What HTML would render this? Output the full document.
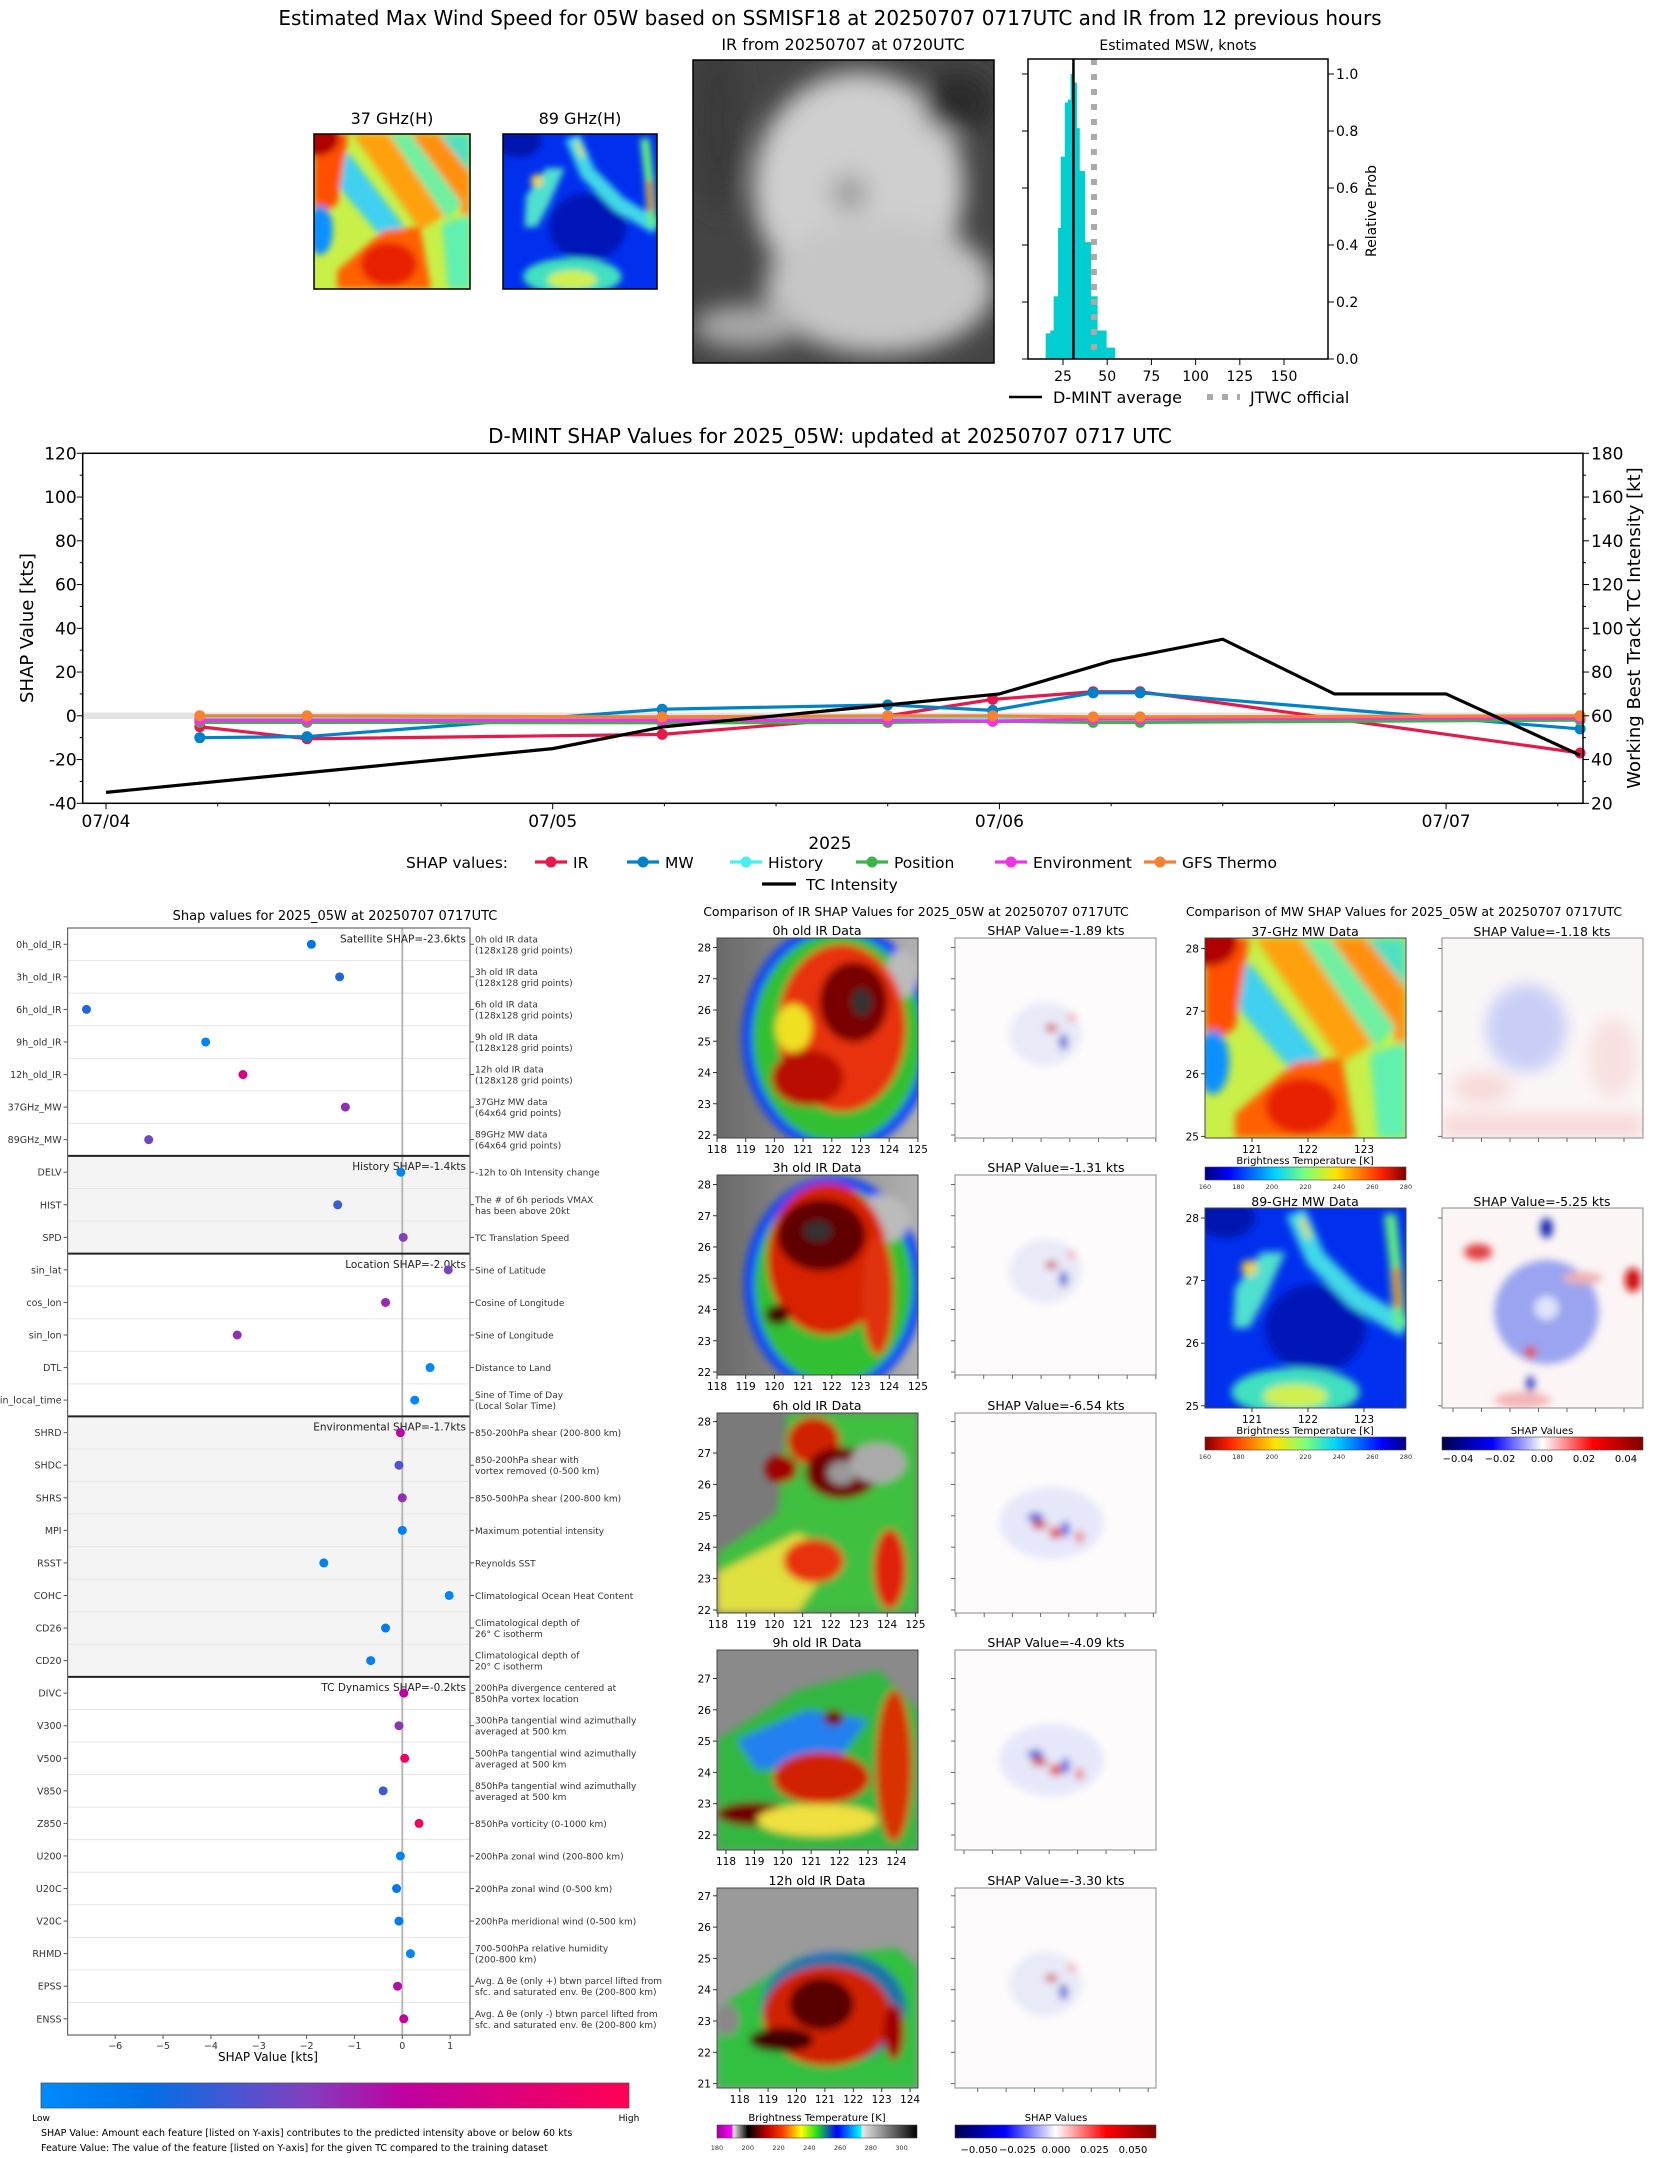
<!DOCTYPE html>
<html><head><meta charset="utf-8">
<style>
html,body{margin:0;padding:0;background:#fff;}
svg{display:block;font-family:"DejaVu Sans","Liberation Sans",sans-serif;}
</style></head>
<body>
<svg id="root" xmlns="http://www.w3.org/2000/svg" width="1655" height="2158" viewBox="0 0 1655 2158">
<defs>
<filter id="b2" x="-20%" y="-20%" width="140%" height="140%"><feGaussianBlur stdDeviation="2"/></filter>
<filter id="b4" x="-20%" y="-20%" width="140%" height="140%"><feGaussianBlur stdDeviation="4"/></filter>
<linearGradient id="jet" x1="0" x2="1"><stop offset="0" stop-color="#00007f"/><stop offset="0.12" stop-color="#0000ff"/><stop offset="0.35" stop-color="#00d4ff"/><stop offset="0.5" stop-color="#7dff7a"/><stop offset="0.65" stop-color="#ffe500"/><stop offset="0.88" stop-color="#ff2000"/><stop offset="1" stop-color="#7f0000"/></linearGradient>
<linearGradient id="jetr" x1="1" x2="0"><stop offset="0" stop-color="#00007f"/><stop offset="0.12" stop-color="#0000ff"/><stop offset="0.35" stop-color="#00d4ff"/><stop offset="0.5" stop-color="#7dff7a"/><stop offset="0.65" stop-color="#ffe500"/><stop offset="0.88" stop-color="#ff2000"/><stop offset="1" stop-color="#7f0000"/></linearGradient>
<linearGradient id="seis" x1="0" x2="1"><stop offset="0" stop-color="#00004c"/><stop offset="0.25" stop-color="#0000ff"/><stop offset="0.5" stop-color="#ffffff"/><stop offset="0.75" stop-color="#ff0000"/><stop offset="1" stop-color="#800000"/></linearGradient>
<linearGradient id="featc" x1="0" x2="1"><stop offset="0" stop-color="#008bfb"/><stop offset="0.18" stop-color="#0070e8"/><stop offset="0.45" stop-color="#8040c0"/><stop offset="0.62" stop-color="#c000a0"/><stop offset="1" stop-color="#ff0052"/></linearGradient>
<linearGradient id="irbar" x1="0" x2="1"><stop offset="0" stop-color="#a000a0"/><stop offset="0.075" stop-color="#ff00ff"/><stop offset="0.08" stop-color="#f0f0f0"/><stop offset="0.155" stop-color="#000"/><stop offset="0.25" stop-color="#c00000"/><stop offset="0.33" stop-color="#ff4000"/><stop offset="0.42" stop-color="#ffff00"/><stop offset="0.5" stop-color="#20e020"/><stop offset="0.6" stop-color="#0000ff"/><stop offset="0.72" stop-color="#00ffff"/><stop offset="0.725" stop-color="#e8e8e8"/><stop offset="1" stop-color="#000"/></linearGradient>
<linearGradient id="grayl" x1="0" x2="1"><stop offset="0" stop-color="#6a6a6a"/><stop offset="1" stop-color="#b0b0b0"/></linearGradient>

<symbol id="mw37" viewBox="0 0 100 100" preserveAspectRatio="none">
<rect width="100" height="100" fill="#c8f048"/>
<g filter="url(#b2)">
<polygon points="25,0 48,0 85,52 68,62" fill="#ffa010"/>
<polygon points="62,0 80,0 100,25 100,58" fill="#ff9010"/>
<polygon points="48,0 62,0 95,45 85,55" fill="#70f0a0"/>
<polygon points="80,0 100,0 100,25" fill="#50e0c0"/>
<polygon points="8,25 22,12 58,60 46,70" fill="#40d0f0"/>
<polygon points="0,0 22,0 15,45 0,55" fill="#ff5000"/>
<ellipse cx="2" cy="2" rx="14" ry="12" fill="#b00000"/>
<ellipse cx="4" cy="62" rx="8" ry="16" fill="#1090ff"/>
<polygon points="15,88 45,62 68,60 75,100 15,100" fill="#ff6000"/>
<ellipse cx="48" cy="84" rx="18" ry="14" fill="#e82000"/>
<polygon points="82,58 100,52 100,100 86,100" fill="#60f0b0"/>
</g></symbol>

<symbol id="mw89" viewBox="0 0 100 100" preserveAspectRatio="none">
<rect width="100" height="100" fill="#0030ee"/>
<g filter="url(#b2)">
<ellipse cx="55" cy="60" rx="25" ry="22" fill="#0014b8"/>
<ellipse cx="10" cy="5" rx="15" ry="10" fill="#0018b0"/>
<polyline points="45,2 55,25 75,45 100,60" fill="none" stroke="#40d8e8" stroke-width="10"/>
<polyline points="48,5 52,15" fill="none" stroke="#e0e040" stroke-width="3"/>
<polygon points="15,40 28,22 40,22 30,45 22,60 14,60" fill="#50e0d0"/>
<ellipse cx="22" cy="30" rx="4" ry="4" fill="#f0d040"/>
<ellipse cx="45" cy="92" rx="32" ry="12" fill="#40e0c0"/>
<ellipse cx="45" cy="94" rx="16" ry="6" fill="#d0f050"/>
<polyline points="92,3 95,30 97,60" fill="none" stroke="#60f080" stroke-width="6"/>
<polyline points="95,30 96,50" fill="none" stroke="#f03000" stroke-width="3"/>
</g></symbol>

<symbol id="irgray" viewBox="0 0 100 100" preserveAspectRatio="none">
<rect width="100" height="100" fill="#444"/>
<g filter="url(#b4)">
<ellipse cx="55" cy="42" rx="35" ry="38" fill="#cfcfcf"/>
<ellipse cx="62" cy="75" rx="38" ry="22" fill="#c6c6c6"/>
<ellipse cx="18" cy="88" rx="18" ry="7" fill="#aaa"/>
<ellipse cx="88" cy="14" rx="12" ry="10" fill="#2a2a2a"/>
<ellipse cx="52" cy="44" rx="6" ry="6" fill="#9a9a9a"/>
<ellipse cx="8" cy="20" rx="8" ry="30" fill="#3a3a3a"/>
</g></symbol>

<symbol id="irc0" viewBox="0 0 100 100" preserveAspectRatio="none">
<rect width="100" height="100" fill="url(#grayl)"/>
<g filter="url(#b2)">
<ellipse cx="60" cy="50" rx="45" ry="55" fill="#30c030" stroke="#1040ff" stroke-width="5"/>
<ellipse cx="92" cy="18" rx="8" ry="12" fill="#bbb"/>
<ellipse cx="62" cy="45" rx="32" ry="42" fill="#e83010"/>
<ellipse cx="68" cy="32" rx="17" ry="20" fill="#780000"/>
<ellipse cx="72" cy="32" rx="5" ry="7" fill="#303030"/>
<ellipse cx="45" cy="70" rx="18" ry="14" fill="#b81000"/>
<ellipse cx="38" cy="45" rx="9" ry="12" fill="#f0e020"/>
</g></symbol>

<symbol id="irc3" viewBox="0 0 100 100" preserveAspectRatio="none">
<rect width="100" height="100" fill="url(#grayl)"/>
<g filter="url(#b2)">
<ellipse cx="58" cy="55" rx="42" ry="52" fill="#30c030" stroke="#1040ff" stroke-width="5"/>
<ellipse cx="82" cy="22" rx="14" ry="12" fill="#bbb"/>
<ellipse cx="55" cy="42" rx="30" ry="38" fill="#d82000"/>
<ellipse cx="52" cy="30" rx="22" ry="18" fill="#600000"/>
<ellipse cx="50" cy="28" rx="7" ry="5" fill="#303030"/>
<ellipse cx="80" cy="60" rx="8" ry="30" fill="#e03010"/>
<ellipse cx="30" cy="70" rx="6" ry="5" fill="#400000"/>
</g></symbol>

<symbol id="irc6" viewBox="0 0 100 100" preserveAspectRatio="none">
<rect width="100" height="100" fill="#7a7a7a"/>
<g filter="url(#b2)">
<polygon points="35,0 100,0 100,100 0,100 0,70 30,50" fill="#40c040"/>
<polygon points="0,80 40,60 60,70 40,100 0,100" fill="#e0e040"/>
<ellipse cx="48" cy="14" rx="13" ry="12" fill="#d02000"/>
<ellipse cx="62" cy="30" rx="18" ry="13" fill="#700000"/>
<ellipse cx="62" cy="30" rx="7" ry="6" fill="#999"/>
<ellipse cx="32" cy="28" rx="8" ry="7" fill="#a00000"/>
<ellipse cx="48" cy="74" rx="15" ry="11" fill="#e83010"/>
<ellipse cx="86" cy="78" rx="8" ry="20" fill="#e02010"/>
<ellipse cx="80" cy="25" rx="14" ry="10" fill="#aaa"/>
</g></symbol>

<symbol id="irc9" viewBox="0 0 100 100" preserveAspectRatio="none">
<rect width="100" height="100" fill="#8a8a8a"/>
<g filter="url(#b2)">
<polygon points="0,45 40,20 80,10 100,30 100,100 0,100" fill="#30b840" />
<polygon points="10,45 45,30 75,35 60,55 20,60" fill="#2080f0"/>
<ellipse cx="52" cy="64" rx="24" ry="13" fill="#d02000"/>
<ellipse cx="88" cy="58" rx="9" ry="38" fill="#d83000"/>
<ellipse cx="18" cy="82" rx="18" ry="6" fill="#700000"/>
<ellipse cx="58" cy="34" rx="5" ry="4" fill="#700000"/>
<ellipse cx="50" cy="85" rx="30" ry="8" fill="#f0e040"/>
</g></symbol>

<symbol id="irc12" viewBox="0 0 100 100" preserveAspectRatio="none">
<rect width="100" height="100" fill="#9a9a9a"/>
<g filter="url(#b2)">
<polygon points="0,60 40,35 90,30 100,40 100,100 0,100" fill="#30c040"/>
<ellipse cx="58" cy="60" rx="36" ry="28" fill="#1040f0" opacity="0.6"/>
<ellipse cx="55" cy="64" rx="32" ry="25" fill="#d02000"/>
<ellipse cx="52" cy="58" rx="16" ry="13" fill="#580000"/>
<ellipse cx="32" cy="76" rx="16" ry="6" fill="#400000"/>
<ellipse cx="5" cy="66" rx="6" ry="8" fill="#888"/>
<ellipse cx="88" cy="72" rx="5" ry="14" fill="#a00000"/>
</g></symbol>

<symbol id="shapir" viewBox="0 0 100 100" preserveAspectRatio="none">
<rect width="100" height="100" fill="#fdfbfb"/>
<g filter="url(#b2)">
<ellipse cx="45" cy="48" rx="18" ry="16" fill="#e8eaf8"/>
<ellipse cx="48" cy="45" rx="3" ry="2" fill="#d04040"/>
<ellipse cx="54" cy="52" rx="2" ry="4" fill="#3040d0"/>
<ellipse cx="58" cy="40" rx="2" ry="2" fill="#f0a0a0"/>
</g></symbol>

<symbol id="shapir6" viewBox="0 0 100 100" preserveAspectRatio="none">
<rect width="100" height="100" fill="#fdfbfb"/>
<g filter="url(#b2)">
<ellipse cx="48" cy="55" rx="26" ry="18" fill="#e6e8fa"/>
<ellipse cx="40" cy="52" rx="4" ry="2" fill="#2030d0"/>
<ellipse cx="42" cy="56" rx="4" ry="2" fill="#d01010"/>
<ellipse cx="50" cy="60" rx="3" ry="3" fill="#e03030"/>
<ellipse cx="55" cy="58" rx="2" ry="4" fill="#3040e0"/>
<ellipse cx="62" cy="62" rx="2" ry="3" fill="#f06060"/>
</g></symbol>

<symbol id="shapmw37" viewBox="0 0 100 100" preserveAspectRatio="none">
<rect width="100" height="100" fill="#fbf6f6"/>
<g filter="url(#b4)">
<ellipse cx="42" cy="45" rx="20" ry="22" fill="#c8cef6"/>
<ellipse cx="20" cy="75" rx="15" ry="8" fill="#f8dada"/>
<ellipse cx="85" cy="60" rx="12" ry="20" fill="#f8e0e0"/>
<rect x="0" y="88" width="100" height="12" fill="#f8d8d8"/>
</g></symbol>

<symbol id="shapmw89" viewBox="0 0 100 100" preserveAspectRatio="none">
<rect width="100" height="100" fill="#fbf5f5"/>
<g filter="url(#b2)">
<ellipse cx="52" cy="52" rx="26" ry="26" fill="#9aa4f0"/>
<ellipse cx="52" cy="50" rx="6" ry="6" fill="#e0e4fc"/>
<ellipse cx="18" cy="22" rx="7" ry="4" fill="#e04040"/>
<ellipse cx="95" cy="36" rx="4" ry="6" fill="#d01010"/>
<ellipse cx="52" cy="10" rx="3" ry="5" fill="#1020b0"/>
<ellipse cx="44" cy="72" rx="3" ry="3" fill="#e04040"/>
<ellipse cx="44" cy="88" rx="2" ry="4" fill="#2030c0"/>
<ellipse cx="70" cy="35" rx="10" ry="3" fill="#f0b0b0"/>
<ellipse cx="40" cy="96" rx="14" ry="4" fill="#f4b4b4"/>
</g></symbol>
</defs>

<text x="830" y="25" font-size="20" text-anchor="middle">Estimated Max Wind Speed for 05W based on SSMISF18 at 20250707 0717UTC and IR from 12 previous hours</text>
<text x="392" y="124" font-size="16" text-anchor="middle">37 GHz(H)</text>
<text x="580" y="124" font-size="16" text-anchor="middle">89 GHz(H)</text>
<text x="843" y="50" font-size="16" text-anchor="middle">IR from 20250707 at 0720UTC</text>
<use href="#mw37" x="314" y="134" width="156" height="155"/>
<rect x="314" y="134" width="156" height="155" fill="none" stroke="#000" stroke-width="1.5"/>
<use href="#mw89" x="503" y="134" width="154" height="155"/>
<rect x="503" y="134" width="154" height="155" fill="none" stroke="#000" stroke-width="1.5"/>
<use href="#irgray" x="693" y="60" width="301" height="303"/>
<rect x="693" y="60" width="301" height="303" fill="none" stroke="#000" stroke-width="1.5"/>
<g id="hist"></g>

<g id="ts"></g>

<g id="bees"></g>

<text x="916" y="916" font-size="12.5" text-anchor="middle">Comparison of IR SHAP Values for 2025_05W at 20250707 0717UTC</text>
<text x="1404" y="916" font-size="12.5" text-anchor="middle">Comparison of MW SHAP Values for 2025_05W at 20250707 0717UTC</text>
<g id="irpanels"></g>

<text x="1305" y="936" font-size="12.5" text-anchor="middle">37-GHz MW Data</text>
<use href="#mw37" x="1205" y="938" width="201" height="200"/>
<rect x="1205" y="938" width="201" height="200" fill="none" stroke="#444"/>
<text x="1542" y="936" font-size="12.5" text-anchor="middle">SHAP Value=-1.18 kts</text>
<use href="#shapmw37" x="1442" y="938" width="201" height="200"/>
<rect x="1442" y="938" width="201" height="200" fill="none" stroke="#888"/>
<text x="1305" y="1206" font-size="12.5" text-anchor="middle">89-GHz MW Data</text>
<use href="#mw89" x="1205" y="1208" width="201" height="200"/>
<rect x="1205" y="1208" width="201" height="200" fill="none" stroke="#444"/>
<text x="1542" y="1206" font-size="12.5" text-anchor="middle">SHAP Value=-5.25 kts</text>
<use href="#shapmw89" x="1442" y="1208" width="201" height="200"/>
<rect x="1442" y="1208" width="201" height="200" fill="none" stroke="#888"/>

<text x="1305" y="1164" font-size="10" text-anchor="middle">Brightness Temperature [K]</text>
<rect x="1205" y="1167" width="201" height="13" fill="url(#jet)" stroke="#444" stroke-width="0.6"/>
<text x="1305" y="1434" font-size="10" text-anchor="middle">Brightness Temperature [K]</text>
<rect x="1205" y="1437" width="201" height="13" fill="url(#jetr)" stroke="#444" stroke-width="0.6"/>
<text x="1542" y="1434" font-size="10" text-anchor="middle">SHAP Values</text>
<rect x="1442" y="1437" width="201" height="13" fill="url(#seis)" stroke="#444" stroke-width="0.6"/>
<g id="mwticks"></g>

<text x="817" y="2121" font-size="10" text-anchor="middle">Brightness Temperature [K]</text>
<rect x="717" y="2125" width="200" height="13" fill="url(#irbar)" stroke="#444" stroke-width="0.6"/>
<text x="1056" y="2121" font-size="10" text-anchor="middle">SHAP Values</text>
<rect x="955" y="2125" width="201" height="13" fill="url(#seis)" stroke="#444" stroke-width="0.6"/>
<g id="cbticks"></g>
</svg>

<script>
const NS='http://www.w3.org/2000/svg';
function mk(tag, attrs, parent, txt){
  const el=document.createElementNS(NS,tag);
  for(const k in attrs) el.setAttribute(k,attrs[k]);
  if(txt!==undefined) el.textContent=txt;
  parent.appendChild(el);
  return el;
}

/* ---------- Histogram data ---------- */
const histEdges=[15.2,17.8,19.7,22.2,23.7,26.0,27.7,29.3,30.5,32.7,34.3,37.3,40.7,44.4,49.5,54.3];
const histProb=[0.09,0.10,0.22,0.46,0.71,0.90,0.91,1.0,0.97,0.81,0.66,0.41,0.22,0.10,0.04];
const dmintAvg=[30.9];
const jtwcOfficial=[42.5];
const histXTicks=[25,50,75,100,125,150];
const histYTicks=[0,0.2,0.4,0.6,0.8,1.0];

/* ---------- Time series data ---------- */
const shapTimes=[0.21,0.45,1.245,1.75,1.985,2.21,2.315,3.30];
const irVals=[-5,-10.5,-8.5,0,7.5,11,11,-17];
const mwVals=[-10,-9.5,3,5,2.5,10.5,10.5,-6];
const historyVals=[-1.5,-1.5,-1,-1,-1,-1,-1,-1];
const positionVals=[-3,-3,-3.2,-3,-2.5,-3,-3,-2];
const environmentVals=[-2,-2,-2,-2,-2.5,-1.5,-1.5,-1];
const gfsVals=[0,0,-0.5,0,0,-0.5,-0.5,0];
const tcTimes=[0,1,1.25,1.75,2,2.25,2.5,2.75,3,3.3];
const tcVals=[25,45,55,65,70,85,95,70,70,42];
const dayLabels=['07/04','07/05','07/06','07/07'];
const leftTicks=[-40,-20,0,20,40,60,80,100,120];
const rightTicks=[20,40,60,80,100,120,140,160,180];

/* ---------- Feature SHAP data ---------- */
const featureNames=['0h_old_IR','3h_old_IR','6h_old_IR','9h_old_IR','12h_old_IR','37GHz_MW','89GHz_MW','DELV','HIST','SPD','sin_lat','cos_lon','sin_lon','DTL','sin_local_time','SHRD','SHDC','SHRS','MPI','RSST','COHC','CD26','CD20','DIVC','V300','V500','V850','Z850','U200','U20C','V20C','RHMD','EPSS','ENSS'];
const featureShap=[-1.9,-1.31,-6.6,-4.11,-3.33,-1.19,-5.3,-0.03,-1.35,0.02,0.96,-0.35,-3.45,0.58,0.26,-0.04,-0.07,0,0,-1.64,0.98,-0.35,-0.66,0.03,-0.07,0.05,-0.4,0.35,-0.04,-0.12,-0.07,0.17,-0.1,0.03];
const featureLevel=[0.15,0.25,0.25,0.05,0.75,0.5,0.42,0.05,0.3,0.45,0.42,0.52,0.5,0.03,0.03,0.6,0.35,0.5,0.08,0.06,0.04,0.1,0.08,0.62,0.48,0.92,0.3,0.95,0.05,0.12,0.1,0.05,0.58,0.65];
const featureDesc=['0h old IR data|(128x128 grid points)','3h old IR data|(128x128 grid points)','6h old IR data|(128x128 grid points)','9h old IR data|(128x128 grid points)','12h old IR data|(128x128 grid points)','37GHz MW data|(64x64 grid points)','89GHz MW data|(64x64 grid points)','-12h to 0h Intensity change','The # of 6h periods VMAX|has been above 20kt','TC Translation Speed','Sine of Latitude','Cosine of Longitude','Sine of Longitude','Distance to Land','Sine of Time of Day|(Local Solar Time)','850-200hPa shear (200-800 km)','850-200hPa shear with|vortex removed (0-500 km)','850-500hPa shear (200-800 km)','Maximum potential intensity','Reynolds SST','Climatological Ocean Heat Content','Climatological depth of|26° C isotherm','Climatological depth of|20° C isotherm','200hPa divergence centered at|850hPa vortex location','300hPa tangential wind azimuthally|averaged at 500 km','500hPa tangential wind azimuthally|averaged at 500 km','850hPa tangential wind azimuthally|averaged at 500 km','850hPa vorticity (0-1000 km)','200hPa zonal wind (200-800 km)','200hPa zonal wind (0-500 km)','200hPa meridional wind (0-500 km)','700-500hPa relative humidity|(200-800 km)','Avg. Δ θe (only +) btwn parcel lifted from|sfc. and saturated env. θe (200-800 km)','Avg. Δ θe (only -) btwn parcel lifted from|sfc. and saturated env. θe (200-800 km)'];
const sectionStarts=[0,7,10,15,23,34];
const sectionLabels=['Satellite SHAP=-23.6kts','History SHAP=-1.4kts','Location SHAP=-2.0kts','Environmental SHAP=-1.7kts','TC Dynamics SHAP=-0.2kts'];
const shapXTicks=[-6,-5,-4,-3,-2,-1,0,1];

/* ===== Histogram ===== */
(function(){
  const g=document.getElementById('hist');
  const hx=v=>1028+(v-5.2)*1.768, hy=p=>359-p*285;
  mk('text',{x:1178,y:50,'font-size':14,'text-anchor':'middle'},g,'Estimated MSW, knots');
  for(let i=0;i<histProb.length;i++){
    const r=mk('rect',{x:hx(histEdges[i]),y:hy(histProb[i]),width:hx(histEdges[i+1])-hx(histEdges[i])+0.3,height:histProb[i]*285,fill:'#00ced1'},g);
    
    
  }
  const m=mk('line',{x1:hx(dmintAvg[0]),x2:hx(dmintAvg[0]),y1:59,y2:359,stroke:'#000','stroke-width':2.5},g);
  
  
  const j=mk('line',{x1:hx(jtwcOfficial[0]),x2:hx(jtwcOfficial[0]),y1:59,y2:359,stroke:'#aaa','stroke-width':6,'stroke-dasharray':'6 9'},g);
  
  
  mk('rect',{x:1028,y:59,width:300,height:300,fill:'none',stroke:'#000','stroke-width':1.5},g);
  histXTicks.forEach(t=>{
    mk('line',{x1:hx(t),x2:hx(t),y1:359,y2:365,stroke:'#000'},g);
    mk('text',{x:hx(t),y:381,'font-size':14,'text-anchor':'middle'},g,t);
  });
  histYTicks.forEach(t=>{
    mk('line',{x1:1328,x2:1334,y1:hy(t),y2:hy(t),stroke:'#000'},g);
    mk('line',{x1:1022,x2:1028,y1:hy(t),y2:hy(t),stroke:'#000'},g);
    mk('text',{x:1336,y:hy(t)+5,'font-size':14},g,t.toFixed(1));
  });
  mk('text',{x:0,y:0,'font-size':14,'text-anchor':'middle',transform:'translate(1376,211) rotate(-90)'},g,'Relative Prob');
  mk('line',{x1:1009,x2:1042,y1:397,y2:397,stroke:'#000','stroke-width':2.5},g);
  mk('text',{x:1053,y:403,'font-size':16},g,'D-MINT average');
  mk('line',{x1:1207,x2:1240,y1:397,y2:397,stroke:'#aaa','stroke-width':6,'stroke-dasharray':'6 9'},g);
  mk('text',{x:1250,y:403,'font-size':16},g,'JTWC official');
})();

/* ===== Time series ===== */
(function(){
  const g=document.getElementById('ts');
  const L=82.7,R=1583,T=453.3,B=803.3;
  const X=d=>106+d*446.7;
  const Y=v=>T+(120-v)*(B-T)/160;
  const YR=k=>T+(180-k)*(B-T)/160;
  mk('text',{x:830,y:443,'font-size':20,'text-anchor':'middle'},g,'D-MINT SHAP Values for 2025_05W: updated at 20250707 0717 UTC');
  const band=mk('rect',{x:L,y:Y(1.5),width:R-L,height:Y(-1.5)-Y(1.5),fill:'#e3e3e3'},g);
  
  
  const series=[['IR',irVals,'#e6194b'],['MW',mwVals,'#0082c8'],['History',historyVals,'#46f0f0'],['Position',positionVals,'#3cb44b'],['Environment',environmentVals,'#f032e6'],['GFS Thermo',gfsVals,'#f58231']];
  series.forEach(s=>{
    const pts=shapTimes.map((t,i)=>X(t)+','+Y(s[1][i])).join(' ');
    const pl=mk('polyline',{points:pts,fill:'none',stroke:s[2],'stroke-width':3.2},g);
    
    
    shapTimes.forEach((t,i)=>{
      const c=mk('circle',{cx:X(t),cy:Y(s[1][i]),r:5.5,fill:s[2]},g);
      
      
    });
  });
  const tc=mk('polyline',{points:tcTimes.map((t,i)=>X(t)+','+YR(tcVals[i])).join(' '),fill:'none',stroke:'#000','stroke-width':3.2},g);
  
  
  mk('rect',{x:L,y:T,width:R-L,height:B-T,fill:'none',stroke:'#000','stroke-width':1.5},g);
  for(let v=-40;v<=120;v+=10){
    const major=v%20===0;
    mk('line',{x1:L-(major?6:3),x2:L,y1:Y(v),y2:Y(v),stroke:'#000'},g);
  }
  leftTicks.forEach(v=>mk('text',{x:L-6,y:Y(v)+6,'font-size':17,'text-anchor':'end'},g,v));
  for(let k=20;k<=180;k+=10){
    const major=k%20===0;
    mk('line',{x1:R,x2:R+(major?6:3),y1:YR(k),y2:YR(k),stroke:'#000'},g);
  }
  rightTicks.forEach(k=>mk('text',{x:R+8,y:YR(k)+6,'font-size':17},g,k));
  for(let q=0;q<=13;q++){
    const d=q*0.25;
    if(X(d)>R+1)break;
    mk('line',{x1:X(d),x2:X(d),y1:B,y2:B+(q%4===0?6:3),stroke:'#000'},g);
  }
  dayLabels.forEach((l,i)=>mk('text',{x:X(i),y:827,'font-size':17,'text-anchor':'middle'},g,l));
  mk('text',{x:830,y:849,'font-size':17,'text-anchor':'middle'},g,'2025');
  mk('text',{x:0,y:0,'font-size':18,'text-anchor':'middle',transform:'translate(33,628) rotate(-90)'},g,'SHAP Value [kts]');
  mk('text',{x:0,y:0,'font-size':18,'text-anchor':'middle',transform:'translate(1640,628) rotate(-90)'},g,'Working Best Track TC Intensity [kt]');
  mk('text',{x:406,y:868,'font-size':15.5},g,'SHAP values:');
  const lx=[551,643,746,872,1011,1160];
  series.forEach((s,i)=>{
    const ln=mk('line',{x1:lx[i]-16,x2:lx[i]+16,y1:862,y2:862,stroke:s[2],'stroke-width':3.2},g);
    
    
    mk('circle',{cx:lx[i],cy:862,r:5.5,fill:s[2]},g);
    const t=mk('text',{x:lx[i]+22,y:868,'font-size':15.5},g,s[0]);
    
    
  });
  mk('line',{x1:762,x2:796,y1:884,y2:884,stroke:'#000','stroke-width':3.2},g);
  mk('text',{x:806,y:890,'font-size':15.5},g,'TC Intensity');
})();

/* ===== Feature SHAP ===== */
(function(){
  const g=document.getElementById('bees');
  const L=67.6,R=470,T=928,rowH=32.56,B=T+rowH*featureNames.length;
  const X=v=>402.3+v*47.85;
  const Yc=i=>T+(i+0.5)*rowH;
  const lerp=(a,b,t)=>Math.round(a+(b-a)*t);
  function featColor(t){
    const stops=[[0,[0,139,251]],[0.18,[0,112,232]],[0.45,[128,64,192]],[0.62,[192,0,160]],[1,[255,0,82]]];
    for(let k=0;k<stops.length-1;k++){
      if(t<=stops[k+1][0]){
        const f=(t-stops[k][0])/(stops[k+1][0]-stops[k][0]);
        const a=stops[k][1],b=stops[k+1][1];
        return 'rgb('+lerp(a[0],b[0],f)+','+lerp(a[1],b[1],f)+','+lerp(a[2],b[2],f)+')';
      }
    }
    return 'rgb(255,0,82)';
  }
  mk('text',{x:335,y:920,'font-size':13,'text-anchor':'middle'},g,'Shap values for 2025_05W at 20250707 0717UTC');
  [1,3].forEach(s=>{
    const r=mk('rect',{x:L,y:T+sectionStarts[s]*rowH,width:R-L,height:(sectionStarts[s+1]-sectionStarts[s])*rowH,fill:'#f4f4f4'},g);
    
    
  });
  for(let i=1;i<featureNames.length;i++){
    mk('line',{x1:L,x2:R,y1:T+i*rowH,y2:T+i*rowH,stroke:'#e6e6e6','stroke-width':1},g);
  }
  mk('line',{x1:X(0),x2:X(0),y1:T,y2:B,stroke:'#b8b8b8','stroke-width':2},g);
  for(let s=1;s<sectionStarts.length-1;s++){
    const y=T+sectionStarts[s]*rowH;
    mk('line',{x1:L,x2:R,y1:y,y2:y,stroke:'#222','stroke-width':2},g);
  }
  sectionLabels.forEach((l,s)=>{
    const t=mk('text',{x:466,y:Yc(sectionStarts[s])-2,'font-size':10.5,'text-anchor':'end',fill:'#222'},g,l);
    
    
  });
  featureNames.forEach((f,i)=>{
    const yc=Yc(i);
    mk('line',{x1:L-4,x2:L,y1:yc,y2:yc,stroke:'#555'},g);
    const lbl=mk('text',{x:L-6,y:yc+3.5,'font-size':9.5,'text-anchor':'end',fill:'#333'},g,f);
    
    
    const c=mk('circle',{cx:X(featureShap[i]),cy:yc,r:4.5,fill:featColor(featureLevel[i])},g);
    
    
    mk('line',{x1:R,x2:R+4,y1:yc,y2:yc,stroke:'#555'},g);
    const parts=featureDesc[i].split('|');
    parts.forEach((p,k)=>{
      const yy=parts.length===1?yc+3.5:yc-2+k*11;
      const d=mk('text',{x:475,y:yy,'font-size':9,fill:'#333'},g,p);
      
      
    });
  });
  mk('rect',{x:L,y:T,width:R-L,height:B-T,fill:'none',stroke:'#666','stroke-width':1.2},g);
  shapXTicks.forEach(t=>{
    mk('line',{x1:X(t),x2:X(t),y1:B,y2:B+4,stroke:'#555'},g);
    mk('text',{x:X(t),y:B+14,'font-size':9.5,'text-anchor':'middle',fill:'#333'},g,t<0?'−'+(-t):t);
  });
  mk('text',{x:268,y:B+26,'font-size':12,'text-anchor':'middle'},g,'SHAP Value [kts]');
  const cb=mk('rect',{x:41,y:2083,width:588,height:25,fill:'url(#featc)',stroke:'#555','stroke-width':0.8},g);
  
  
  mk('text',{x:41,y:2121,'font-size':9,'text-anchor':'middle'},g,'Low');
  mk('text',{x:629,y:2121,'font-size':9,'text-anchor':'middle'},g,'High');
  mk('text',{x:41,y:2136,'font-size':9.5},g,'SHAP Value: Amount each feature [listed on Y-axis] contributes to the predicted intensity above or below 60 kts');
  mk('text',{x:41,y:2151,'font-size':9.5},g,'Feature Value: The value of the feature [listed on Y-axis] for the given TC compared to the training dataset');
})();

/* ===== IR panels ===== */
(function(){
  const g=document.getElementById('irpanels');
  const rows=[
    {t:'0h old IR Data',s:'SHAP Value=-1.89 kts',y:938,sym:'irc0',sh:'shapir',yl:[22,28],y0:1135,yd:31.25,x0:717,xd:28.7,xl:[118,125]},
    {t:'3h old IR Data',s:'SHAP Value=-1.31 kts',y:1175,sym:'irc3',sh:'shapir',yl:[22,28],y0:1372,yd:31.25,x0:717,xd:28.7,xl:[118,125]},
    {t:'6h old IR Data',s:'SHAP Value=-6.54 kts',y:1413,sym:'irc6',sh:'shapir6',yl:[22,28],y0:1610,yd:31.4,x0:718,xd:28.2,xl:[118,125]},
    {t:'9h old IR Data',s:'SHAP Value=-4.09 kts',y:1650,sym:'irc9',sh:'shapir6',yl:[22,27],y0:1835,yd:31.3,x0:726,xd:28.4,xl:[118,124]},
    {t:'12h old IR Data',s:'SHAP Value=-3.30 kts',y:1888,sym:'irc12',sh:'shapir',yl:[21,27],y0:2083.6,yd:31.3,x0:739.7,xd:28.4,xl:[118,124]}
  ];
  rows.forEach(r=>{
    mk('text',{x:817,y:r.y-3,'font-size':12.5,'text-anchor':'middle'},g,r.t);
    const u=mk('use',{href:'#'+r.sym,x:717,y:r.y,width:201,height:200},g);
    
    
    mk('rect',{x:717,y:r.y,width:201,height:200,fill:'none',stroke:'#444'},g);
    mk('text',{x:1056,y:r.y-3,'font-size':12.5,'text-anchor':'middle'},g,r.s);
    const s=mk('use',{href:'#'+r.sh,x:955,y:r.y,width:201,height:200},g);
    
    
    mk('rect',{x:955,y:r.y,width:201,height:200,fill:'none',stroke:'#888'},g);
    for(let v=r.yl[0];v<=r.yl[1];v++){
      const yy=r.y0-(v-r.yl[0])*r.yd;
      mk('line',{x1:713,x2:717,y1:yy,y2:yy,stroke:'#333'},g);
      mk('text',{x:711,y:yy+4,'font-size':10.5,'text-anchor':'end'},g,v);
      mk('line',{x1:951,x2:955,y1:yy,y2:yy,stroke:'#666'},g);
    }
    for(let v=r.xl[0];v<=r.xl[1];v++){
      const xx=r.x0+(v-r.xl[0])*r.xd;
      mk('line',{x1:xx,x2:xx,y1:r.y+200,y2:r.y+204,stroke:'#333'},g);
      mk('text',{x:xx,y:r.y+215,'font-size':10.5,'text-anchor':'middle'},g,v);
      mk('line',{x1:xx+238,x2:xx+238,y1:r.y+200,y2:r.y+204,stroke:'#666'},g);
    }
  });
})();

/* ===== MW ticks & colorbar ticks ===== */
(function(){
  const g=document.getElementById('mwticks');
  [[938,948.6],[1208,1218]].forEach(p=>{
    for(let v=25;v<=28;v++){
      const yy=p[1]+(28-v)*62.6;
      mk('line',{x1:1201,x2:1205,y1:yy,y2:yy,stroke:'#333'},g);
      mk('text',{x:1199,y:yy+4,'font-size':10.5,'text-anchor':'end'},g,v);
      mk('line',{x1:1438,x2:1442,y1:yy,y2:yy,stroke:'#666'},g);
    }
    [121,122,123].forEach((v,i)=>{
      const xx=1252+i*56;
      mk('line',{x1:xx,x2:xx,y1:p[0]+200,y2:p[0]+204,stroke:'#333'},g);
      mk('text',{x:xx,y:p[0]+215,'font-size':10.5,'text-anchor':'middle'},g,v);
    });
    for(let k=0;k<7;k++){const xx=1453+k*28.5;mk('line',{x1:xx,x2:xx,y1:p[0]+200,y2:p[0]+204,stroke:'#666'},g);}
  });
  [1189,1459].forEach(y=>{
    [160,180,200,220,240,260,280].forEach((v,i)=>mk('text',{x:1205+i*33.5,y:y,'font-size':6.5,'text-anchor':'middle',fill:'#333'},g,v));
  });
  ['−0.04','−0.02','0.00','0.02','0.04'].forEach((v,i)=>mk('text',{x:1458+i*42,y:1462,'font-size':10,'text-anchor':'middle'},g,v));
  const c=document.getElementById('cbticks');
  [180,200,220,240,260,280,300].forEach(v=>mk('text',{x:717+(v-180)/130*200,y:2150,'font-size':6.5,'text-anchor':'middle',fill:'#333'},c,v));
  ['−0.050','−0.025','0.000','0.025','0.050'].forEach((v,i)=>mk('text',{x:979+i*38.5,y:2153,'font-size':10,'text-anchor':'middle'},c,v));
})();
</script>
</body></html>
